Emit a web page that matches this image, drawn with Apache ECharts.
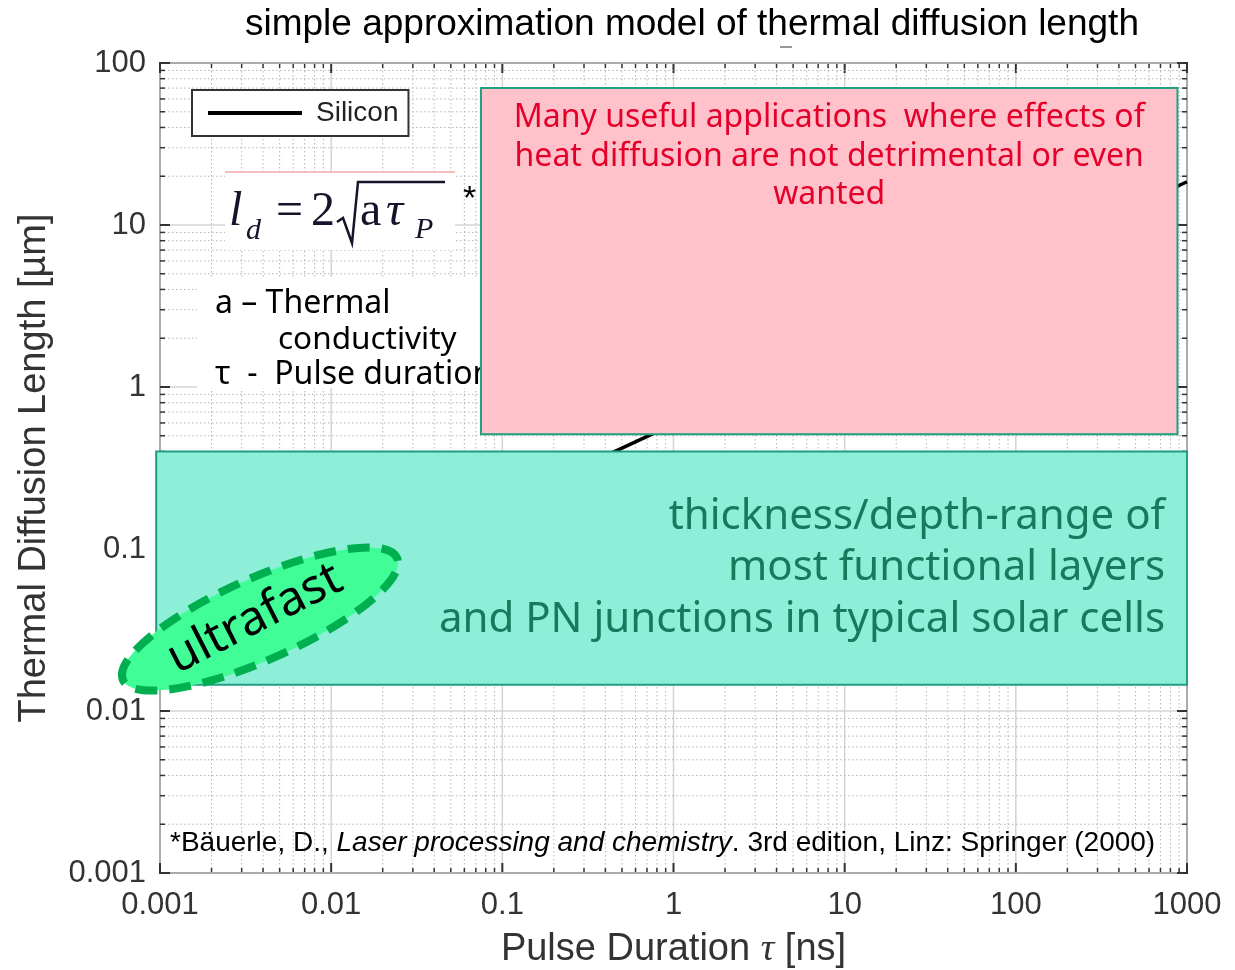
<!DOCTYPE html>
<html><head><meta charset="utf-8">
<script src="https://cdn.jsdelivr.net/npm/echarts@6/dist/echarts.min.js"></script>
<style>html,body{margin:0;padding:0;background:#fff}#c{width:1235px;height:970px}</style>
</head><body><div id="c"></div>
<script>
// ---- data ----
const pulseDuration = [0.001, 0.01, 0.1, 1, 10, 100, 1000];      // ns
const diffusionLength = [0.019, 0.059, 0.19, 0.59, 1.9, 5.9, 18.5]; // µm (Silicon)
const xTicks = [0.001, 0.01, 0.1, 1, 10, 100, 1000];
const xTickLabels = ['0.001', '0.01', '0.1', '1', '10', '100', '1000'];
const yTicks = [0.001, 0.01, 0.1, 1, 10, 100];
const yTickLabels = ['0.001', '0.01', '0.1', '1', '10', '100'];
const minorMultipliers = [2, 3, 4, 5, 6, 7, 8, 9];
// value ranges of the highlighted regions
const heatRegionX = [0.075, 880];
const heatRegionY = [0.51, 70];
const layerRegionX = [0.00095, 1000];
const layerRegionY = [0.0145, 0.4];
const heatLines = ['Many useful applications  where effects of', 'heat diffusion are not detrimental or even', 'wanted'];
const layerLines = ['thickness/depth-range of', 'most functional layers', 'and PN junctions in typical solar cells'];

const SANS = '"Liberation Sans", Arial, sans-serif';
const HUM = '"Noto Sans", "Open Sans", sans-serif';
const SERIF = '"Liberation Serif", "Times New Roman", serif';

const chart = echarts.init(document.getElementById('c'));

const gridData = [];
xTicks.forEach((t, i) => {
  gridData.push([t, 1, 0, 1]);
  if (i < xTicks.length - 1) minorMultipliers.forEach(m => gridData.push([t * m, 1, 0, 0]));
});
yTicks.forEach((t, i) => {
  gridData.push([1, t, 1, 1]);
  if (i < yTicks.length - 1) minorMultipliers.forEach(m => gridData.push([1, t * m, 1, 0]));
});

function lbl(ticks, labels) {
  return v => {
    const i = ticks.findIndex(t => Math.abs(Math.log10(t) - Math.log10(v)) < 1e-6);
    return i >= 0 ? labels[i] : '';
  };
}

function renderGrid(params, api) {
  const cs = params.coordSys;
  const isY = api.value(2) === 1, major = api.value(3) === 1;
  const p = api.coord([api.value(0), api.value(1)]);
  const gl = major ? { stroke: '#d4d4d4', lineWidth: 1.5 } : { stroke: '#b5b5b5', lineWidth: 1, lineDash: [1.5, 2.5] };
  const tl = major ? 10 : 5;
  const ts = { stroke: '#333', lineWidth: major ? 2 : 1.5 };
  const c = [];
  if (!isY) {
    const x = p[0], y0 = cs.y, y1 = cs.y + cs.height;
    c.push({ type: 'line', shape: { x1: x, y1: y0, x2: x, y2: y1 }, style: gl });
    c.push({ type: 'line', shape: { x1: x, y1: y1, x2: x, y2: y1 - tl }, style: ts });
    c.push({ type: 'line', shape: { x1: x, y1: y0, x2: x, y2: y0 + tl }, style: ts });
  } else {
    const y = p[1], x0 = cs.x, x1 = cs.x + cs.width;
    c.push({ type: 'line', shape: { x1: x0, y1: y, x2: x1, y2: y }, style: gl });
    c.push({ type: 'line', shape: { x1: x0, y1: y, x2: x0 + tl, y2: y }, style: ts });
    c.push({ type: 'line', shape: { x1: x1, y1: y, x2: x1 - tl, y2: y }, style: ts });
  }
  return { type: 'group', children: c };
}

chart.setOption({
  animation: false,
  title: {
    text: 'simple approximation model of thermal diffusion length',
    left: 240, top: 1,
    textStyle: { fontSize: 37, fontWeight: 'normal', color: '#000', fontFamily: SANS }
  },
  legend: {
    data: [{ name: 'Silicon', icon: 'rect' }], left: 192, top: 90,
    itemWidth: 94, itemHeight: 4, padding: [9, 10, 9, 16],
    borderColor: '#333', borderWidth: 2, backgroundColor: '#fff',
    itemStyle: { color: '#000' },
    textStyle: { fontSize: 28, color: '#222', fontFamily: SANS, padding: [0, 0, 0, 9] }
  },
  grid: { left: 160, right: 48, top: 63, bottom: 97, outerBoundsMode: 'none', containLabel: false, show: true, borderColor: '#333', borderWidth: 2 },
  xAxis: {
    type: 'log', logBase: 10, min: 0.001, max: 1000,
    axisLine: { show: false }, axisTick: { show: false }, splitLine: { show: false },
    axisLabel: { fontSize: 31, color: '#333', fontFamily: SANS, margin: 17, formatter: lbl(xTicks, xTickLabels), showMinLabel: true, showMaxLabel: true },
    name: '{a|Pulse Duration }{t|τ}{a| [ns]}', nameLocation: 'middle', nameGap: 58,
    nameTextStyle: { rich: { a: { fontSize: 38, color: '#333', fontFamily: SANS }, t: { fontSize: 38, color: '#333', fontFamily: SERIF, fontStyle: 'italic' } } }
  },
  yAxis: {
    type: 'log', logBase: 10, min: 0.001, max: 100,
    axisLine: { show: false }, axisTick: { show: false }, splitLine: { show: false },
    axisLabel: { fontSize: 31, color: '#333', fontFamily: SANS, margin: 14, formatter: lbl(yTicks, yTickLabels), showMinLabel: true, showMaxLabel: true },
    name: 'Thermal Diffusion Length [µm]', nameLocation: 'middle', nameGap: 106,
    nameTextStyle: { fontSize: 38, color: '#333', fontFamily: SANS }
  },
  series: [
    { type: 'custom', name: 'grid', silent: true, z: 1, renderItem: renderGrid, data: gridData, encode: { x: 0, y: 1 }, clip: false },
    { type: 'line', name: 'Silicon', z: 3, symbol: 'none', data: pulseDuration.map((t, i) => [t, diffusionLength[i]]),
      lineStyle: { color: '#000', width: 3.5 }, itemStyle: { color: '#000' } }
  ]
});

const px = (x, y) => chart.convertToPixel({ gridIndex: 0 }, [x, y]);
const h0 = px(heatRegionX[0], heatRegionY[1]), h1 = px(heatRegionX[1], heatRegionY[0]);
const l0 = px(layerRegionX[0], layerRegionY[1]), l1 = px(layerRegionX[1], layerRegionY[0]);
const hcx = (h0[0] + h1[0]) / 2, lcy = (l0[1] + l1[1]) / 2;

const G = [];
// formula box
G.push({ type: 'rect', z: 10, shape: { x: 225, y: 172, width: 230, height: 78 }, style: { fill: '#fff' } });
G.push({ type: 'line', z: 11, shape: { x1: 225, y1: 172, x2: 455, y2: 172 }, style: { stroke: '#f0a8a8', lineWidth: 1.5 } });
const fcol = '#14142a';
G.push({ type: 'text', z: 11, x: 229, y: 212, style: { text: 'l', font: 'italic 48px ' + SERIF, fill: fcol, textVerticalAlign: 'middle' } });
G.push({ type: 'text', z: 11, x: 246, y: 231, style: { text: 'd', font: 'italic 30px ' + SERIF, fill: fcol, textVerticalAlign: 'middle' } });
G.push({ type: 'text', z: 11, x: 276, y: 212, style: { text: '=', font: '48px ' + SERIF, fill: fcol, textVerticalAlign: 'middle' } });
G.push({ type: 'text', z: 11, x: 311, y: 212, style: { text: '2', font: '48px ' + SERIF, fill: fcol, textVerticalAlign: 'middle' } });
G.push({ type: 'polyline', z: 11, shape: { points: [[337, 222], [343, 218], [352, 243], [358, 182], [445, 182]] }, style: { stroke: fcol, lineWidth: 2.5, fill: null } });
G.push({ type: 'text', z: 11, x: 360, y: 212, style: { text: 'a', font: '48px ' + SERIF, fill: fcol, textVerticalAlign: 'middle' } });
G.push({ type: 'text', z: 11, x: 386, y: 212, style: { text: 'τ', font: 'italic 48px ' + SERIF, fill: fcol, textVerticalAlign: 'middle' } });
G.push({ type: 'text', z: 11, x: 415, y: 230, style: { text: 'P', font: 'italic 30px ' + SERIF, fill: fcol, textVerticalAlign: 'middle' } });
G.push({ type: 'text', z: 11, x: 463, y: 200, style: { text: '*', font: '34px ' + SANS, fill: '#000', textVerticalAlign: 'middle' } });
// definitions
G.push({ type: 'rect', z: 10, shape: { x: 197, y: 277, width: 284, height: 111 }, style: { fill: '#fff' } });
G.push({ type: 'text', z: 11, x: 215, y: 304, style: { text: 'a – Thermal', font: '32px ' + HUM, fill: '#000', textVerticalAlign: 'middle' } });
G.push({ type: 'text', z: 11, x: 278, y: 340, style: { text: 'conductivity', font: '31.5px ' + HUM, fill: '#000', textVerticalAlign: 'middle' } });
G.push({ type: 'text', z: 11, x: 215, y: 375, style: { text: 'τ  -  Pulse duration', font: '32px ' + HUM, fill: '#000', textVerticalAlign: 'middle' } });
// heat region box
G.push({ type: 'rect', z: 20, shape: { x: h0[0], y: h0[1], width: h1[0] - h0[0], height: h1[1] - h0[1] }, style: { fill: '#ffc2ca', stroke: '#1f9e80', lineWidth: 2 } });
heatLines.forEach((t, i) => G.push({ type: 'text', z: 21, x: hcx, y: h0[1] + 30 + i * 38.5, style: { text: t, font: '32px ' + HUM, fill: '#e4002b', textAlign: 'center', textVerticalAlign: 'middle' } }));
// layer region box
G.push({ type: 'rect', z: 20, shape: { x: l0[0], y: l0[1], width: l1[0] - l0[0], height: l1[1] - l0[1] }, style: { fill: '#8eefd8', stroke: '#1f9e80', lineWidth: 2 } });
layerLines.forEach((t, i) => G.push({ type: 'text', z: 21, x: l1[0] - 22, y: lcy + 0 + (i - 1) * 51.5, style: { text: t, font: '42px ' + HUM, fill: '#177a5c', textAlign: 'right', textVerticalAlign: 'middle' } }));
// ultrafast ellipse
const rot = 24 * Math.PI / 180;
G.push({ type: 'ellipse', z: 30, x: 260, y: 619, rotation: rot, shape: { cx: 0, cy: 0, rx: 150, ry: 41 }, style: { fill: '#40fd98', stroke: '#00b050', lineWidth: 8, lineDash: [22, 12] } });
G.push({ type: 'text', z: 31, x: 255, y: 619, rotation: 27 * Math.PI / 180, style: { text: 'ultrafast', font: '48px ' + HUM, fill: '#000', textAlign: 'center', textVerticalAlign: 'middle' } });
// reference
G.push({ type: 'text', z: 11, x: 170, y: 843, style: {
  text: '{n|*Bäuerle, D., }{i|Laser processing and chemistry}{n|. 3rd edition, Linz: Springer (2000)}',
  textVerticalAlign: 'middle',
  rich: { n: { fontSize: 28, fontFamily: SANS, color: '#000' }, i: { fontSize: 28, fontFamily: SANS, fontStyle: 'italic', color: '#000' } } } });
G.push({ type: 'line', z: 11, shape: { x1: 780, y1: 47, x2: 792, y2: 47 }, style: { stroke: '#777', lineWidth: 1.5 } });

chart.setOption({ graphic: G });
</script></body></html>
